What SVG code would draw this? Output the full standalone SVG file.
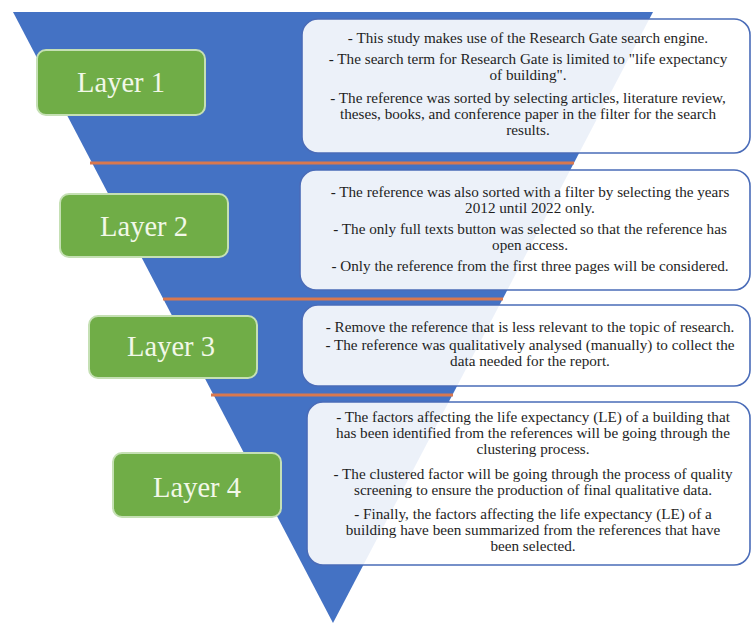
<svg xmlns="http://www.w3.org/2000/svg" width="752" height="623" viewBox="0 0 752 623">
<style>
.layer{fill:#70ad47;stroke:#c5e0b4;stroke-width:2}
.ltxt{font-family:"Liberation Serif","Times New Roman",serif;font-size:28.5px;fill:#f2f8e8;text-anchor:middle}
.box{fill:#ffffff;fill-opacity:0.9;stroke:#4a6cb8;stroke-width:1.6}
.t{font-family:"Liberation Serif","Times New Roman",serif;font-size:15.2px;fill:#1e1e1e;text-anchor:middle}
.sep{stroke:#d9784e;stroke-width:3}
</style>
<rect width="752" height="623" fill="#ffffff"/>
<polygon id="funnel" points="13,12 653,12 333,623" fill="#4472c4"/>
<g id="separators">
<line class="sep" x1="90" y1="163" x2="574" y2="163"/>
<line class="sep" x1="163" y1="299" x2="503" y2="299"/>
<line class="sep" x1="211" y1="395" x2="453" y2="395"/>
</g>
<g id="layer1">
<rect class="layer" x="37" y="50" width="168" height="65" rx="9"/>
<text class="ltxt" x="121" y="92">Layer 1</text>
</g>
<g id="layer2">
<rect class="layer" x="60" y="194" width="168" height="63" rx="9"/>
<text class="ltxt" x="144" y="236">Layer 2</text>
</g>
<g id="layer3">
<rect class="layer" x="89" y="316" width="168" height="62" rx="9"/>
<text class="ltxt" x="171" y="356">Layer 3</text>
</g>
<g id="layer4">
<rect class="layer" x="113" y="453" width="168" height="64" rx="9"/>
<text class="ltxt" x="197" y="497">Layer 4</text>
</g>
<g id="text1">
<rect class="box" x="302" y="19" width="448" height="134" rx="16"/>
<text class="t" x="528" y="43">- This study makes use of the Research Gate search engine.</text>
<text class="t" x="528" y="64">- The search term for Research Gate is limited to "life expectancy</text>
<text class="t" x="528" y="80">of building".</text>
<text class="t" x="528" y="103">- The reference was sorted by selecting articles, literature review,</text>
<text class="t" x="528" y="119">theses, books, and conference paper in the filter for the search</text>
<text class="t" x="528" y="135">results.</text>
</g>
<g id="text2">
<rect class="box" x="300" y="170" width="450" height="120" rx="16"/>
<text class="t" x="530" y="197">- The reference was also sorted with a filter by selecting the years</text>
<text class="t" x="530" y="213">2012 until 2022 only.</text>
<text class="t" x="530" y="234">- The only full texts button was selected so that the reference has</text>
<text class="t" x="530" y="250">open access.</text>
<text class="t" x="530" y="271">- Only the reference from the first three pages will be considered.</text>
</g>
<g id="text3">
<rect class="box" x="302" y="305" width="448" height="81" rx="16"/>
<text class="t" x="530" y="332">- Remove the reference that is less relevant to the topic of research.</text>
<text class="t" x="530" y="350">- The reference was qualitatively analysed (manually) to collect the</text>
<text class="t" x="530" y="366">data needed for the report.</text>
</g>
<g id="text4">
<rect class="box" x="307" y="402" width="443" height="163" rx="16"/>
<text class="t" x="533" y="422">- The factors affecting the life expectancy (LE) of a building that</text>
<text class="t" x="533" y="438">has been identified from the references will be going through the</text>
<text class="t" x="533" y="454">clustering process.</text>
<text class="t" x="533" y="479">- The clustered factor will be going through the process of quality</text>
<text class="t" x="533" y="495">screening to ensure the production of final qualitative data.</text>
<text class="t" x="533" y="519">- Finally, the factors affecting the life expectancy (LE) of a</text>
<text class="t" x="533" y="535">building have been summarized from the references that have</text>
<text class="t" x="533" y="551">been selected.</text>
</g>
</svg>
